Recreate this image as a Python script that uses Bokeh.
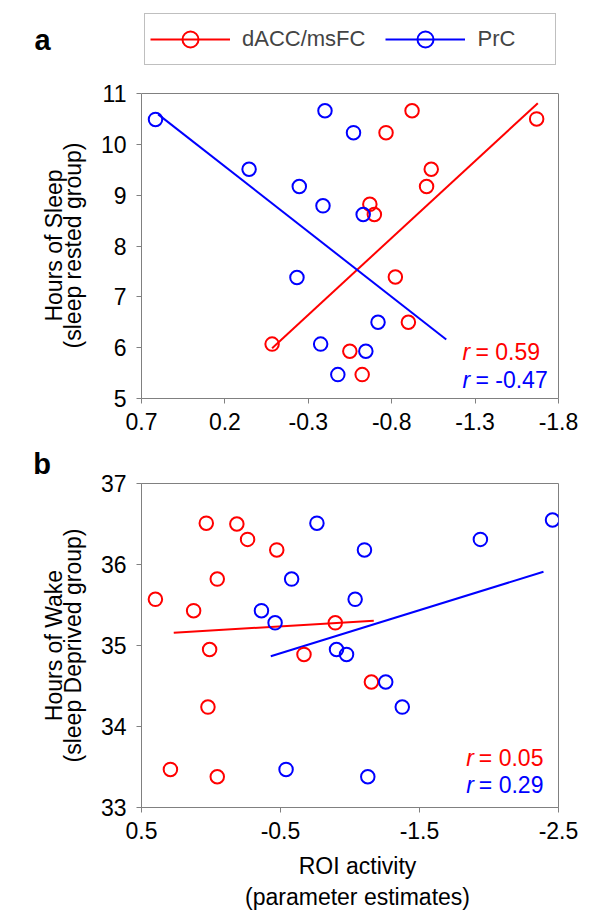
from math import pi
from bokeh.plotting import figure
from bokeh.models import Range1d, FixedTicker, Label, Legend, LegendItem, LinearAxis, Span
from bokeh.layouts import column
from bokeh.embed import file_html
from bokeh.resources import INLINE

# ---------------- data ----------------
# Panel a: hours of sleep (sleep rested group) vs ROI activity
a_red_x = [-0.083, -0.549, -0.623, -0.669, -0.696, -0.766, -0.822, -0.900, -0.922, -1.009, -1.037, -1.669]
a_red_y = [6.07, 5.93, 5.47, 8.82, 8.62, 10.23, 7.39, 6.50, 10.66, 9.17, 9.51, 10.50]
a_blue_x = [0.616, 0.055, -0.246, -0.232, -0.388, -0.400, -0.374, -0.477, -0.571, -0.629, -0.645, -0.718]
a_blue_y = [10.49, 9.51, 9.17, 7.38, 8.79, 10.66, 6.07, 5.47, 10.23, 8.62, 5.93, 6.50]
a_red_fit_x = [-0.083, -1.676]
a_red_fit_y = [5.99, 10.81]
a_blue_fit_x = [0.600, -1.127]
a_blue_fit_y = [10.59, 6.16]
a_xticks = [0.7, 0.2, -0.3, -0.8, -1.3, -1.8]
a_xlabels = ["0.7", "0.2", "-0.3", "-0.8", "-1.3", "-1.8"]
a_yticks = [5, 6, 7, 8, 9, 10, 11]
a_ylabels = ["5", "6", "7", "8", "9", "10", "11"]
a_ytitle = ["Hours of Sleep", "(sleep rested group)"]
a_r_red = "= 0.59"
a_r_blue = "= -0.47"

# Panel b: hours of wake (sleep deprived group) vs ROI activity
b_red_x = [0.400, 0.292, 0.125, 0.034, 0.010, 0.022, -0.045, -0.045, -0.186, -0.263, -0.473, -0.669, -0.894, -1.154]
b_red_y = [35.57, 33.47, 35.43, 36.51, 34.95, 34.24, 35.82, 33.38, 36.50, 36.31, 36.18, 34.89, 35.28, 34.55]
b_blue_x = [-0.363, -0.461, -0.540, -0.580, -0.762, -0.903, -0.975, -1.037, -1.104, -1.128, -1.257, -1.376, -1.938, -2.457]
b_blue_y = [35.43, 35.28, 33.47, 35.82, 36.51, 34.95, 34.89, 35.57, 36.18, 33.38, 34.55, 34.24, 36.31, 36.55]
b_red_fit_x = [0.268, -1.171]
b_red_fit_y = [35.157, 35.305]
b_blue_fit_x = [-0.430, -2.392]
b_blue_fit_y = [34.868, 35.911]
b_xticks = [0.5, -0.5, -1.5, -2.5]
b_xlabels = ["0.5", "-0.5", "-1.5", "-2.5"]
b_yticks = [33, 34, 35, 36, 37]
b_ylabels = ["33", "34", "35", "36", "37"]
b_ytitle = ["Hours of Wake", "(sleep Deprived group)"]
b_r_red = "= 0.05"
b_r_blue = "= 0.29"

series_names = ["dACC/msFC", "PrC"]
panel_letters = ["a", "b"]
x_title = ["ROI activity", "(parameter estimates)"]

# ---------------- style ----------------
RED = "#FF0000"
BLUE = "#0000FF"
GRAY = "#808080"
FONT = "Liberation Sans"
FS = "23px"
W = 600
BL, BR = 141, 42          # left / right borders shared by both panels


def style(p, xticks, xlabels, yticks, ylabels):
    p.grid.visible = False
    p.outline_line_color = GRAY
    p.outline_line_width = 1
    p.background_fill_color = "white"
    p.border_fill_color = "white"
    for ax in (p.xaxis[0], p.yaxis[0]):
        ax.axis_line_color = GRAY
        ax.major_tick_line_color = GRAY
        ax.major_tick_out = 5
        ax.major_tick_in = 0
        ax.minor_tick_line_color = None
        ax.major_label_text_font = FONT
        ax.major_label_text_font_size = FS
        ax.major_label_text_color = "black"
    p.xaxis.ticker = FixedTicker(ticks=xticks)
    p.xaxis.major_label_overrides = {t: s for t, s in zip(xticks, xlabels)}
    p.xaxis.major_label_standoff = 9
    p.yaxis.ticker = FixedTicker(ticks=yticks)
    p.yaxis.major_label_overrides = {t: s for t, s in zip(yticks, ylabels)}
    p.yaxis.major_label_standoff = 10


def y_title(p, x1, x2, y, lines):
    # two-line vertical axis title, set in the left side panel (not clipped)
    for x, txt in zip((x1, x2), lines):
        p.add_layout(Label(x=x, y=y, text=txt, angle=pi / 2, text_font=FONT,
                           text_font_size=FS, text_color="black",
                           text_align="center", text_baseline="alphabetic"), "left")


def r_labels(p, xr, xe, y_red, y_blue, txt_red, txt_blue):
    for y, txt, col in ((y_red, txt_red, RED), (y_blue, txt_blue, BLUE)):
        p.add_layout(Label(x=xr, y=y, text="r", text_font=FONT, text_font_size=FS,
                           text_font_style="italic", text_color=col,
                           text_baseline="middle", text_align="left"))
        p.add_layout(Label(x=xe, y=y, text=txt, text_font=FONT, text_font_size=FS,
                           text_color=col, text_baseline="middle", text_align="left"))


def letter(p, x, y, txt):
    # placed in a side panel so that it is not clipped to the plot frame
    p.add_layout(Label(x=x, y=y, text=txt, text_font=FONT, text_font_size="29px",
                       text_font_style="bold", text_color="black",
                       text_baseline="alphabetic", text_align="left"), "left")


# ---------------- panel a ----------------
# the frame reaches up to hold the legend; the drawn box is limited to 5..11
pa = figure(width=W, height=448, x_range=Range1d(0.7, -1.8), y_range=Range1d(5, 12.633),
            output_backend="svg", toolbar_location=None,
            min_border_left=BL, min_border_right=BR, min_border_top=10, min_border_bottom=50)
style(pa, a_xticks, a_xlabels, a_yticks, a_ylabels)
pa.outline_line_color = None
pa.yaxis.bounds = (a_yticks[0], a_yticks[-1])
right_a = LinearAxis(bounds=(a_yticks[0], a_yticks[-1]), ticker=FixedTicker(ticks=[]),
                     axis_line_color=GRAY, major_tick_line_color=None,
                     minor_tick_line_color=None)
pa.add_layout(right_a, "right")
pa.add_layout(Span(location=a_yticks[-1], dimension="width", line_color=GRAY, line_width=1))

ra_line = pa.line(a_red_fit_x, a_red_fit_y, line_color=RED, line_width=2)
ba_line = pa.line(a_blue_fit_x, a_blue_fit_y, line_color=BLUE, line_width=2)
ra_pts = pa.scatter(a_red_x, a_red_y, marker="circle", size=13.5, fill_color=None,
                    line_color=RED, line_width=2)
ba_pts = pa.scatter(a_blue_x, a_blue_y, marker="circle", size=13.5, fill_color=None,
                    line_color=BLUE, line_width=2)
r_labels(pa, -1.2245, -1.302, 5.911, 5.373, a_r_red, a_r_blue)

legend = Legend(items=[LegendItem(label=series_names[0], renderers=[ra_line, ra_pts]),
                       LegendItem(label=series_names[1], renderers=[ba_line, ba_pts])],
                orientation="horizontal", location="top_left", margin=3,
                glyph_width=80, glyph_height=40, label_height=39, label_width=73,
                label_standoff=12, spacing=20, padding=5,
                label_text_font=FONT, label_text_font_size="22px",
                border_line_color=GRAY, border_line_width=1,
                background_fill_color="white", background_fill_alpha=1)
pa.add_layout(legend, "center")
letter(pa, 1.3415, 12.057, panel_letters[0])
y_title(pa, 1.2216, 1.1107, 8.01, a_ytitle)

# ---------------- panel b ----------------
pb = figure(width=W, height=466, x_range=Range1d(0.5, -2.5), y_range=Range1d(33, 37),
            output_backend="svg", toolbar_location=None,
            min_border_left=BL, min_border_right=BR, min_border_top=35, min_border_bottom=107)
style(pb, b_xticks, b_xlabels, b_yticks, b_ylabels)

pb.line(b_red_fit_x, b_red_fit_y, line_color=RED, line_width=2)
pb.line(b_blue_fit_x, b_blue_fit_y, line_color=BLUE, line_width=2)
pb.scatter(b_red_x, b_red_y, marker="circle", size=13.5, fill_color=None,
           line_color=RED, line_width=2)
pb.scatter(b_blue_x, b_blue_y, marker="circle", size=13.5, fill_color=None,
           line_color=BLUE, line_width=2)
r_labels(pb, -1.836, -1.927, 33.617, 33.272, b_r_red, b_r_blue)
letter(pb, 1.279, 37.243, panel_letters[1])
y_title(pb, 1.1327, 0.996, 35.0, b_ytitle)

for txt, y in zip(x_title, [32.272, 31.901]):
    pb.add_layout(Label(x=-1.054, y=y, text=txt, text_font=FONT, text_font_size=FS,
                        text_color="black", text_align="center", text_baseline="middle"),
                  "below")

layout = column(pa, pb, spacing=0)
open("out.html", "w").write(file_html(layout, INLINE))
